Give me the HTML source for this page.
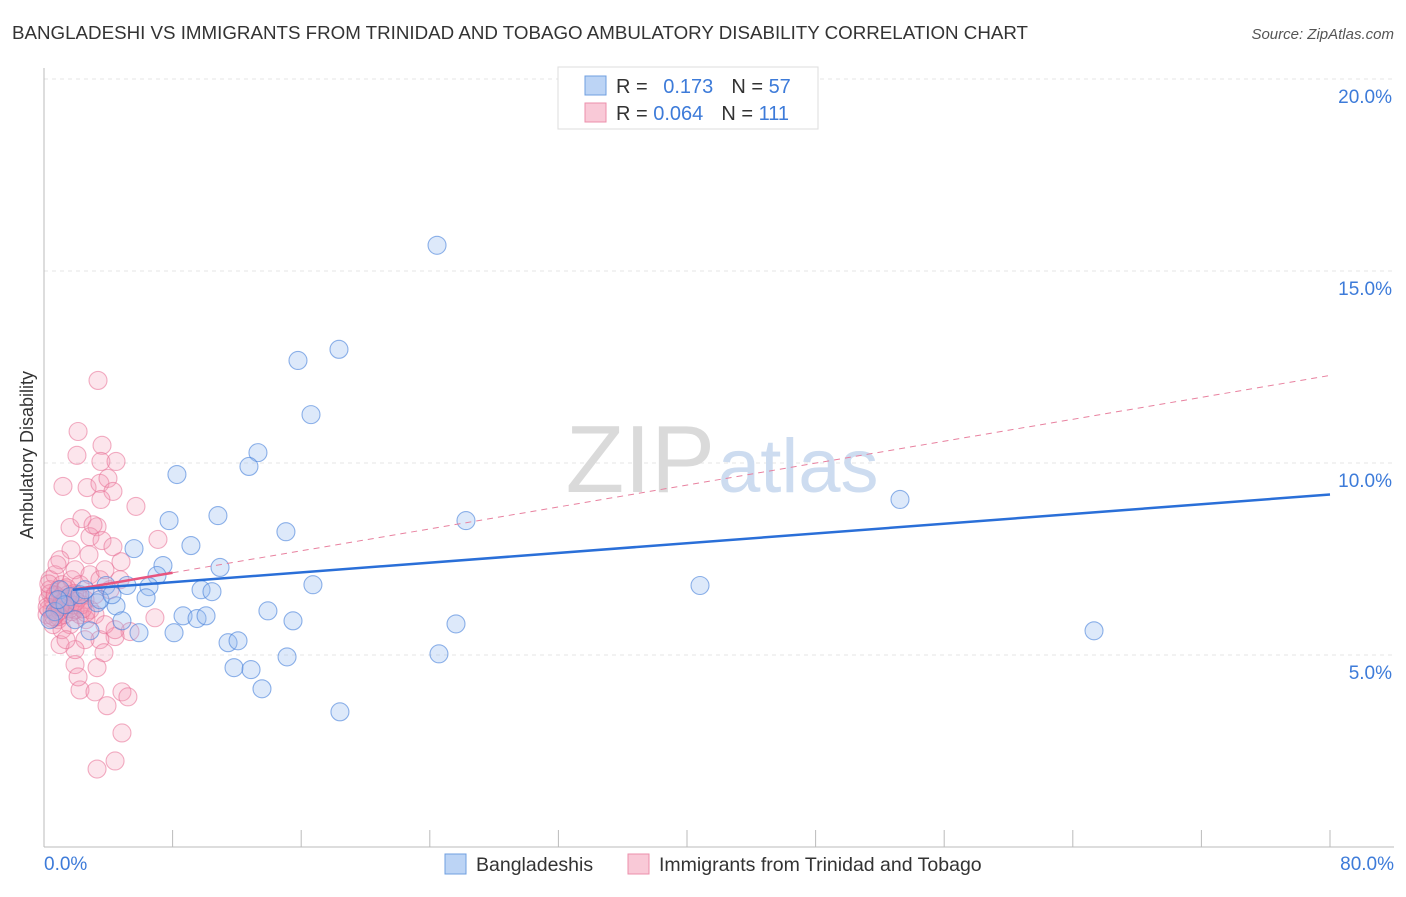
<!DOCTYPE html>
<html><head><meta charset="utf-8"><style>
body{margin:0;background:#fff;font-family:"Liberation Sans",sans-serif}
svg text{font-family:"Liberation Sans",sans-serif}
</style></head><body>
<svg width="1406" height="892" viewBox="0 0 1406 892">
<text x="12" y="39" font-size="18" fill="#333" textLength="1016" lengthAdjust="spacingAndGlyphs">BANGLADESHI VS IMMIGRANTS FROM TRINIDAD AND TOBAGO AMBULATORY DISABILITY CORRELATION CHART</text>
<text x="1394" y="39" font-size="15" fill="#555" font-style="italic" text-anchor="end">Source: ZipAtlas.com</text>
<g id="grid"></g>
<text x="715" y="492" font-size="96" fill="#dadada" text-anchor="end" font-family="Liberation Serif">ZIP</text>
<text x="718" y="492" font-size="76" fill="#cddcf0">atlas</text>
<line x1="44" y1="68" x2="44" y2="847" stroke="#bbb"/>
<line x1="44" y1="847" x2="1394" y2="847" stroke="#bbb"/>
<g id="ticks"></g>
<g id="pts"></g>
<g id="trends"></g>
<text x="33" y="455" font-size="18" fill="#333" text-anchor="middle" transform="rotate(-90 33 455)">Ambulatory Disability</text>
<text x="44" y="870" font-size="19" fill="#3d7bd9">0.0%</text>
<text x="1394" y="870" font-size="19" fill="#3d7bd9" text-anchor="end">80.0%</text>
<g>
<rect x="558" y="67" width="260" height="62" fill="#fff" stroke="#ddd"/>
<rect x="585" y="76" width="21" height="19" fill="#bcd4f5" stroke="#6f9fe0"/>
<rect x="585" y="103" width="21" height="19" fill="#f9c9d7" stroke="#ec8fab"/>
<text x="616" y="93" font-size="20" fill="#333">R = <tspan fill="#3d7bd9" dx="10">0.173</tspan><tspan dx="18">N = </tspan><tspan fill="#3d7bd9">57</tspan></text>
<text x="616" y="120" font-size="20" fill="#333">R = <tspan fill="#3d7bd9">0.064</tspan><tspan dx="18">N = </tspan><tspan fill="#3d7bd9">111</tspan></text>
</g>
<g>
<rect x="445" y="854" width="21" height="20" fill="#bcd4f5" stroke="#6f9fe0"/>
<text x="476" y="871" font-size="19.5" fill="#333">Bangladeshis</text>
<rect x="628" y="854" width="21" height="20" fill="#f9c9d7" stroke="#ec8fab"/>
<text x="659" y="871" font-size="19.5" fill="#333">Immigrants from Trinidad and Tobago</text>
</g>
</svg>
<script>
const yTicks=[5,10,15,20];
const yTickLabels=["5.0%","10.0%","15.0%","20.0%"];
const xTicks=[0,8,16,24,32,40,48,56,64,72,80];
const blueX=[24.45,15.80,18.35,16.61,13.31,12.75,8.27,53.25,26.25,10.82,7.78,15.05,5.60,9.14,10.95,7.40,7.03,16.73,5.16,3.86,6.53,9.77,10.45,6.35,40.81,3.30,4.48,13.93,8.65,9.52,10.08,15.49,25.63,4.85,2.86,5.91,8.09,65.32,11.45,12.07,15.12,24.57,11.82,12.88,13.56,18.41,0.68,1.00,0.37,1.62,2.24,1.31,1.93,0.87,3.48,4.23,2.55];
const blueY=[15.67,12.67,12.96,11.26,10.27,9.91,9.70,9.05,8.50,8.63,8.50,8.21,7.77,7.85,7.28,7.33,7.07,6.83,6.81,6.81,6.78,6.70,6.65,6.49,6.81,6.36,6.28,6.15,6.02,5.95,6.02,5.89,5.81,5.89,5.63,5.58,5.58,5.63,5.32,5.37,4.95,5.03,4.67,4.62,4.12,3.52,6.13,6.70,5.92,6.52,6.57,6.31,5.92,6.44,6.44,6.57,6.70];
const pinkX=[3.36,2.12,3.61,2.05,3.54,4.48,1.18,2.68,3.48,3.98,4.29,3.54,5.72,1.62,2.36,3.30,2.86,3.61,4.29,4.79,7.09,1.68,0.99,2.80,3.17,6.90,5.35,4.42,3.48,3.73,3.30,1.93,2.24,3.17,2.12,4.85,5.22,3.92,4.85,4.42,3.30,2.55,1.93,1.00,1.62,0.37,0.68,1.12,0.25,0.50,0.87,1.31,1.49,1.74,1.93,2.24,2.55,0.99,0.68,0.37,0.19,1.12,1.62,2.24,2.86,1.37,0.81,2.86,3.48,3.79,4.11,4.73,2.61,1.93,1.24,0.56,1.49,2.05,0.93,1.74,2.36,3.17,3.79,4.42,3.05,0.3,0.6,0.9,1.2,1.5,0.4,0.8,1.1,1.4,0.2,0.7,1.0,1.3,1.6,1.9,0.5,0.9,1.8,2.2,2.6,0.3,0.6,1.0,1.4,2.0,2.4];
const pinkY=[12.15,10.82,10.46,10.20,10.04,10.04,9.39,9.36,9.47,9.60,9.26,9.05,8.87,8.32,8.55,8.34,8.08,7.98,7.82,7.43,8.01,7.74,7.48,7.61,6.57,5.97,5.61,5.48,5.40,5.06,4.67,4.75,4.09,4.04,4.43,4.04,3.91,3.68,2.97,2.24,2.03,5.40,5.14,5.27,6.44,6.96,7.09,6.83,6.44,6.18,5.92,6.70,6.31,6.96,7.22,6.83,6.44,6.44,6.57,6.70,6.05,5.66,5.79,6.05,6.18,5.40,7.35,7.09,6.96,7.22,6.70,6.96,5.92,6.18,6.05,5.79,6.57,6.57,6.26,6.13,6.31,6.05,5.79,5.66,8.39,6.2,6.4,6.0,6.3,6.5,6.6,6.1,6.35,6.45,6.25,6.55,6.15,6.4,6.2,6.6,5.95,6.7,6.3,6.5,6.1,6.85,6.0,6.25,6.75,6.4,6.2];
const blueTrend=[1.8,6.70,80,9.18];
const pinkTrend=[1.8,6.70,80,12.28];
const pinkSolidEnd=8;
const NS="http://www.w3.org/2000/svg";
const xS=v=>44+v*(1330-44)/80;
const yS=v=>847-v*(847-463)/10;
function mk(tag,attrs,parent){const e=document.createElementNS(NS,tag);for(const k in attrs)e.setAttribute(k,attrs[k]);parent.appendChild(e);return e;}
const grid=document.getElementById('grid');
yTicks.forEach((t,i)=>{
 const l=mk('line',{x1:44,x2:1394,y1:yS(t),y2:yS(t),stroke:'#e4e4e4','stroke-dasharray':'4,4'},grid);
 
 
 const tx=mk('text',{x:1392,y:yS(t)+24,'font-size':19,fill:'#3d7bd9','text-anchor':'end'},grid);
 tx.textContent=yTickLabels[i];
 
 
});
const ticks=document.getElementById('ticks');
xTicks.forEach(t=>{
 const l=mk('line',{x1:xS(t),x2:xS(t),y1:830,y2:847,stroke:'#bbb'},ticks);
 
 
});
const pts=document.getElementById('pts');
pinkX.forEach((x,i)=>{
 const c=mk('circle',{cx:xS(x),cy:yS(pinkY[i]),r:9,fill:'rgba(244,150,178,0.25)',stroke:'rgba(232,110,148,0.55)','stroke-width':1.1},pts);
 
 
});
blueX.forEach((x,i)=>{
 const c=mk('circle',{cx:xS(x),cy:yS(blueY[i]),r:9,fill:'rgba(150,188,238,0.32)',stroke:'rgba(70,128,218,0.6)','stroke-width':1.1},pts);
 
 
});
const tr=document.getElementById('trends');
const pAt=x=>pinkTrend[1]+(x-pinkTrend[0])*(pinkTrend[3]-pinkTrend[1])/(pinkTrend[2]-pinkTrend[0]);
let l1=mk('line',{x1:xS(pinkSolidEnd),y1:yS(pAt(pinkSolidEnd)),x2:xS(pinkTrend[2]),y2:yS(pinkTrend[3]),stroke:'#e8819f','stroke-width':1,'stroke-dasharray':'6,5'},tr);


let l2=mk('line',{x1:xS(pinkTrend[0]),y1:yS(pinkTrend[1]),x2:xS(pinkSolidEnd),y2:yS(pAt(pinkSolidEnd)),stroke:'#e8557f','stroke-width':2.5},tr);


let l3=mk('line',{x1:xS(blueTrend[0]),y1:yS(blueTrend[1]),x2:xS(blueTrend[2]),y2:yS(blueTrend[3]),stroke:'#2a6fd8','stroke-width':2.5},tr);


</script>
</body></html>
